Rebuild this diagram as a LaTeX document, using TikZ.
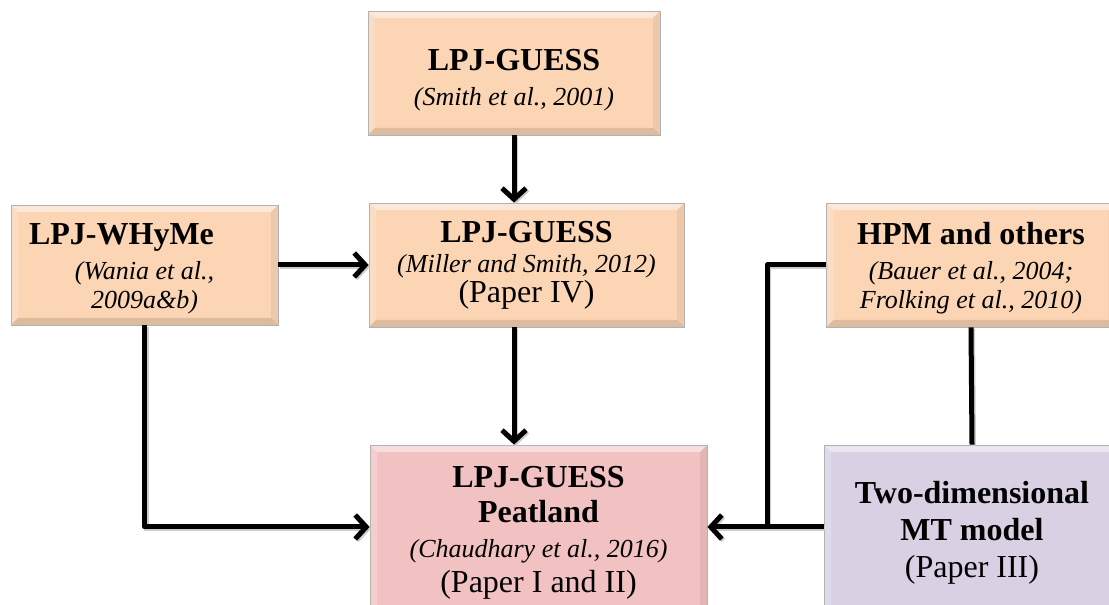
\documentclass[tikz,border=0pt]{standalone}
\usepackage{fontspec}
\setmainfont{Liberation Serif}
\usetikzlibrary{arrows.meta}

\definecolor{peach}{HTML}{FCD5B5}
\definecolor{rosy}{HTML}{F2C2C2}
\definecolor{lilac}{HTML}{D9D0E4}
\newcommand{\ttl}{\fontsize{32}{35}\selectfont\bfseries}
\newcommand{\cit}{\fontsize{26}{35}\selectfont\mdseries\itshape}
\newcommand{\ppr}{\fontsize{32}{35}\selectfont\mdseries\upshape}

\begin{document}
\begin{tikzpicture}
  [x=1pt,y=1pt,
   model/.style={draw=black!30,line width=.8pt,fill=peach,align=center,inner sep=0pt,
     font=\fontsize{26}{35}\selectfont,
     path picture={
       \fill[white,opacity=.45] (path picture bounding box.north west) -- ++(7pt,-7pt)
         -- ([shift={(-7pt,-7pt)}]path picture bounding box.north east)
         -- (path picture bounding box.north east) -- cycle;
       \fill[white,opacity=.2] (path picture bounding box.north west) -- ++(7pt,-7pt)
         -- ([shift={(7pt,7pt)}]path picture bounding box.south west)
         -- (path picture bounding box.south west) -- cycle;
       \fill[black,opacity=.12] (path picture bounding box.south west) -- ++(7pt,7pt)
         -- ([shift={(-7pt,7pt)}]path picture bounding box.south east)
         -- (path picture bounding box.south east) -- cycle;
       \fill[black,opacity=.06] (path picture bounding box.south east) -- ++(-7pt,7pt)
         -- ([shift={(-7pt,-7pt)}]path picture bounding box.north east)
         -- (path picture bounding box.north east) -- cycle;}},
   link/.style={line width=5pt,line join=round,
     preaction={draw=black!20,line width=5pt,transform canvas={shift={(1.5pt,-1.5pt)}}}},
   arr/.style={link,-{Straight Barb[length=11pt,width=24pt]}}]
  \useasboundingbox (0,0) rectangle (1109,605);

  \node[model,minimum width=292,minimum height=124] (guess) at (514,532)
    {\rule{0pt}{36pt}\ttl LPJ-GUESS\\ \cit (Smith et al., 2001)};
  \node[model,minimum width=315,minimum height=124] (miller) at (526.5,340)
    {\ttl LPJ-GUESS\\[-5pt] \cit (Miller and Smith, 2012)\\[-5pt] \ppr (Paper IV)};
  \node[model,minimum width=267,minimum height=120] (whyme) at (144.5,340)
    {\rule{0pt}{28pt}\ttl LPJ-WHyMe\hspace*{46pt}\\ \cit (Wania et al.,\\[-6pt] \cit 2009a\&b)};
  \node[model,minimum width=289,minimum height=124] (hpm) at (971,340)
    {\rule{0pt}{28pt}\ttl HPM and others\\ \cit (Bauer et al., 2004;\\[-6pt] \cit Frolking et al., 2010)};
  \node[model,fill=rosy,minimum width=337,minimum height=175] (peat) at (538.5,72.5)
    {\ttl LPJ-GUESS\\ \ttl Peatland\\ \cit (Chaudhary et al., 2016)\\ \ppr (Paper I and II)};
  \node[model,fill=lilac,minimum width=296,minimum height=175] (mt) at (972,72.5)
    {\ttl Two-dimensional\\[2pt] \ttl MT model\\[2pt] \ppr (Paper III)};
  \coordinate (join) at (767,78);

  \draw[arr] (guess.south) -- (guess.south |- miller.north);
  \draw[arr] (guess.south |- miller.south) -- (guess.south |- peat.north);
  \draw[arr] (whyme.east) -- (miller.west);
  \draw[arr] (whyme.south) |- (peat.west |- join);
  \draw[link] (hpm.west) -| (join);
  \draw[link] (hpm.south) -- (mt.north);
  \draw[arr] (mt.west |- join) -- (peat.east |- join);
\end{tikzpicture}
\end{document}
